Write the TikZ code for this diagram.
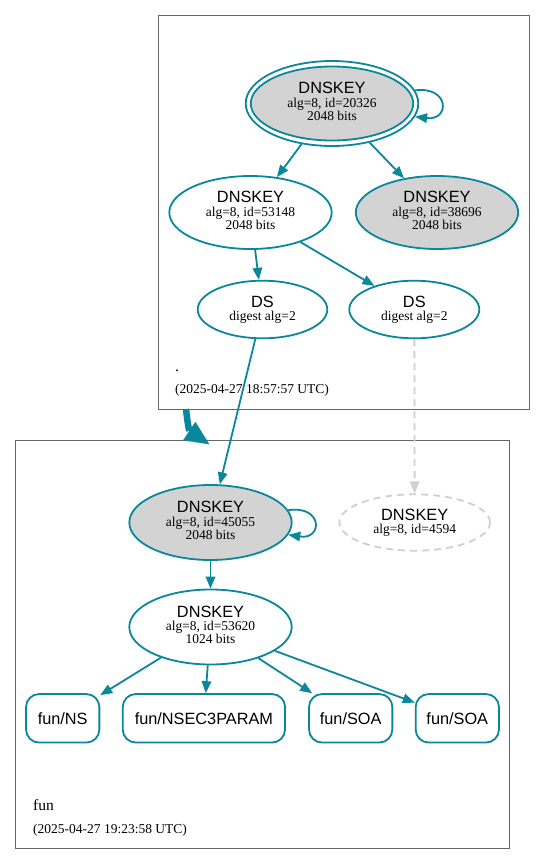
\documentclass[tikz,border=0pt]{standalone}
\usepackage{fontspec}
\usetikzlibrary{arrows.meta,shapes.geometric}
\newfontfamily\hvf{Liberation Sans}
\newfontfamily\tmf{Liberation Serif}
\newcommand\fbig{\hvf\fontsize{16.3}{18}\selectfont}
\newcommand\fsm{\tmf\fontsize{13.5}{13.2}\selectfont}
\newcommand\fzone{\tmf\fontsize{15.5}{17}\selectfont}
\definecolor{sec}{HTML}{0A879A}
\definecolor{nodegray}{HTML}{D3D3D3}
\definecolor{clus}{HTML}{666666}
\definecolor{ghost}{HTML}{D0D0D0}
\begin{document}
\begin{tikzpicture}[x=1pt,y=-1pt,
  keynode/.style={ellipse, draw=sec, line width=1.8pt, inner sep=0pt, align=center, font=\fsm},
  lifted/.style={text depth=4pt},
  rrnode/.style={draw=sec, line width=1.8pt, rounded corners=13pt, inner sep=0pt, font=\fbig, minimum height=48.5pt},
  clusterbox/.style={draw=clus, line width=1pt, inner sep=0pt},
  edge/.style={draw=sec, line width=1.8pt, -{Triangle[length=12pt,width=9.5pt]}},
  ghostedge/.style={draw=ghost, line width=1.8pt, dash pattern=on 7pt off 5pt, -{Triangle[length=12pt,width=9.5pt]}},
  zonelbl/.style={anchor=base west, inner sep=0pt, font=\fzone},
  timelbl/.style={anchor=base west, inner sep=0pt, font=\fsm}]
\useasboundingbox (0,0) rectangle (545,865);
\fill[white] (0,0) rectangle (545,865);
% clusters
\node[clusterbox, minimum width=371pt, minimum height=393.3pt] (topc) at (343.8,212.35) {};
\node[clusterbox, minimum width=493.6pt, minimum height=408.3pt] (botc) at (262.5,644.15) {};
% top zone nodes
\node[keynode, lifted, fill=nodegray, minimum width=162.4pt, minimum height=74pt] (k20326) at (332,103.5)
  {{\fbig DNSKEY}\\alg=8, id=20326\\2048 bits};
\node[ellipse, draw=sec, line width=1.8pt, inner sep=0pt, minimum width=172.6pt, minimum height=85pt] (k20326o) at (332,103.5) {};
\node[keynode, lifted, minimum width=162.4pt, minimum height=73pt] (k53148) at (250.5,212.5)
  {{\fbig DNSKEY}\\alg=8, id=53148\\2048 bits};
\node[keynode, lifted, fill=nodegray, minimum width=162.4pt, minimum height=73pt] (k38696) at (437,212.5)
  {{\fbig DNSKEY}\\alg=8, id=38696\\2048 bits};
\node[keynode, minimum width=129.6pt, minimum height=57.6pt] (ds1) at (262.5,309.5)
  {{\fbig DS}\\digest alg=2};
\node[keynode, minimum width=130pt, minimum height=57.6pt] (ds2) at (414.3,309.5)
  {{\fbig DS}\\digest alg=2};
\node[zonelbl] (zroot) at (175,371) {.};
\node[timelbl] (troot) at (175,393.5) {(2025-04-27 18:57:57 UTC)};
% bottom zone nodes
\node[keynode, lifted, fill=nodegray, minimum width=162.4pt, minimum height=75pt] (k45055) at (210.5,522.5)
  {{\fbig DNSKEY}\\alg=8, id=45055\\2048 bits};
\node[keynode, draw=ghost, dash pattern=on 7pt off 5pt, minimum width=150.6pt, minimum height=56.4pt] (k4594) at (414.7,522.5)
  {{\fbig DNSKEY}\\alg=8, id=4594};
\node[keynode, lifted, minimum width=162.4pt, minimum height=75pt] (k53620) at (210.5,627)
  {{\fbig DNSKEY}\\alg=8, id=53620\\1024 bits};
\node[rrnode, minimum width=73.3pt] (rns) at (62.7,718.3) {fun/NS};
\node[rrnode, minimum width=162.3pt] (rn3) at (203.9,718.3) {fun/NSEC3PARAM};
\node[rrnode, minimum width=83.3pt] (rsoa1) at (350.7,718.3) {fun/SOA};
\node[rrnode, minimum width=83.3pt] (rsoa2) at (457.3,718.3) {fun/SOA};
\node[zonelbl] (zfun) at (33,810) {fun};
\node[timelbl] (tfun) at (33,833.5) {(2025-04-27 19:23:58 UTC)};
% edges
\draw[edge] (k20326o.9.5) .. controls (450,86) and (450,121) .. (k20326o.-9.5);
\draw[edge] (k20326o) -- (k53148);
\draw[edge] (k20326o) -- (k38696);
\draw[edge] (k53148) -- (ds1);
\draw[edge] (k53148) -- (ds2);
\draw[edge] (ds1) -- (k45055);
\draw[ghostedge] (ds2) -- (k4594);
\draw[edge] (k45055.9) .. controls (323,505) and (323,540) .. (k45055.-9);
\draw[edge] (k45055) -- (k53620);
\draw[edge] (k53620) -- (rns);
\draw[edge] (k53620) -- (rn3);
\draw[edge] (k53620) -- (rsoa1);
\draw[edge] (k53620) -- (rsoa2);
% delegation arrow between clusters
\coordinate (cs) at (186,409);
\coordinate (cb) at (189.2,431);
\coordinate (ce) at (209.3,444.3);
\draw[sec, line width=6.5pt] (cs) .. controls (187,418) and (188,425) .. (cb);
\draw[sec, line width=0.1pt, -{Triangle[length=24pt,width=22pt]}] (cb) -- (ce);
\end{tikzpicture}
\end{document}
